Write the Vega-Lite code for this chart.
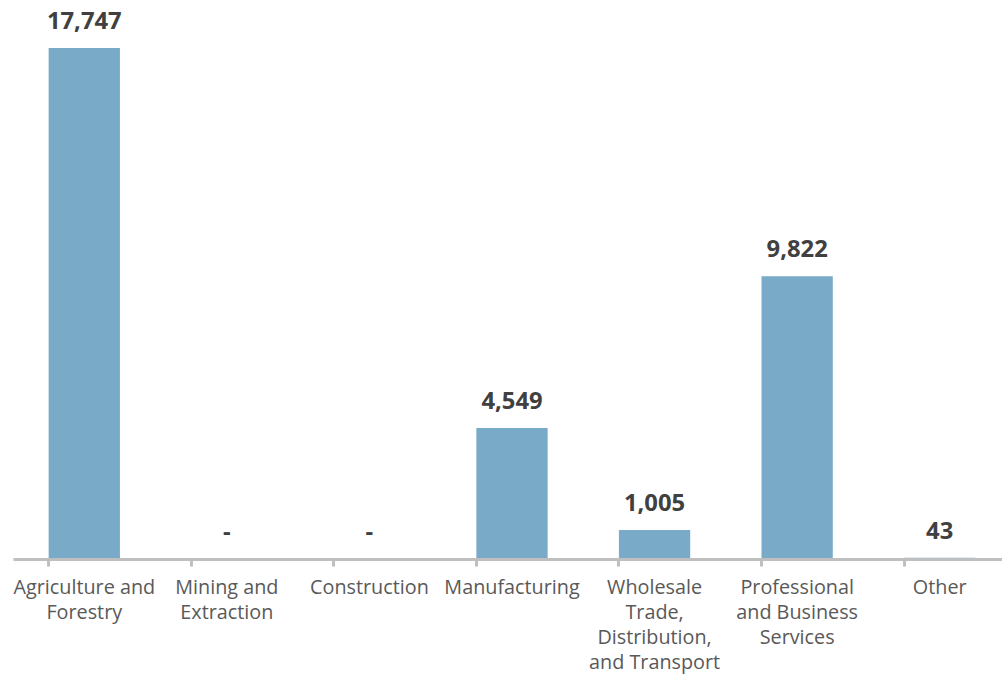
{
  "$schema": "https://vega.github.io/schema/vega-lite/v6.json",
  "width": 998,
  "height": 511,
  "autosize": "none",
  "padding": {"left": 13, "top": 48, "right": 0, "bottom": 115},
  "background": "white",
  "config": {"view": {"stroke": null}, "font": "Open Sans"},
  "data": {
    "values": [
      {"cat": "Agriculture and|Forestry", "value": 17747, "label": "17,747"},
      {"cat": "Mining and|Extraction", "value": 0, "label": "-"},
      {"cat": "Construction", "value": 0, "label": "-"},
      {"cat": "Manufacturing", "value": 4549, "label": "4,549"},
      {"cat": "Wholesale|Trade,|Distribution,|and Transport", "value": 1005, "label": "1,005"},
      {"cat": "Professional|and Business|Services", "value": 9822, "label": "9,822"},
      {"cat": "Other", "value": 43, "label": "43"}
    ]
  },
  "encoding": {
    "x": {
      "field": "cat",
      "type": "nominal",
      "sort": null,
      "scale": {"paddingInner": 0.5, "paddingOuter": 0.25},
      "axis": {
        "title": null,
        "zindex": 1,
        "labelAngle": 0,
        "labelExpr": "split(datum.value, '|')",
        "labelFont": "Open Sans",
        "labelFontSize": 19.8,
        "labelLineHeight": 25,
        "labelColor": "#595959",
        "labelPadding": 11,
        "labelLimit": 0,
        "domainColor": "#bfbfbf",
        "domainWidth": 3,
        "tickColor": "#bfbfbf",
        "tickWidth": 3,
        "tickSize": 7,
        "bandPosition": 0,
        "grid": false
      }
    },
    "y": {
      "field": "value",
      "type": "quantitative",
      "scale": {"domain": [0, 17747], "nice": false},
      "axis": null
    }
  },
  "layer": [
    {"mark": {"type": "bar", "color": "#79abc9"}},
    {
      "mark": {
        "type": "text",
        "baseline": "alphabetic",
        "dy": -19,
        "font": "Open Sans",
        "fontSize": 23.8,
        "fontWeight": "bold",
        "color": "#404040"
      },
      "encoding": {"text": {"field": "label"}}
    }
  ]
}
